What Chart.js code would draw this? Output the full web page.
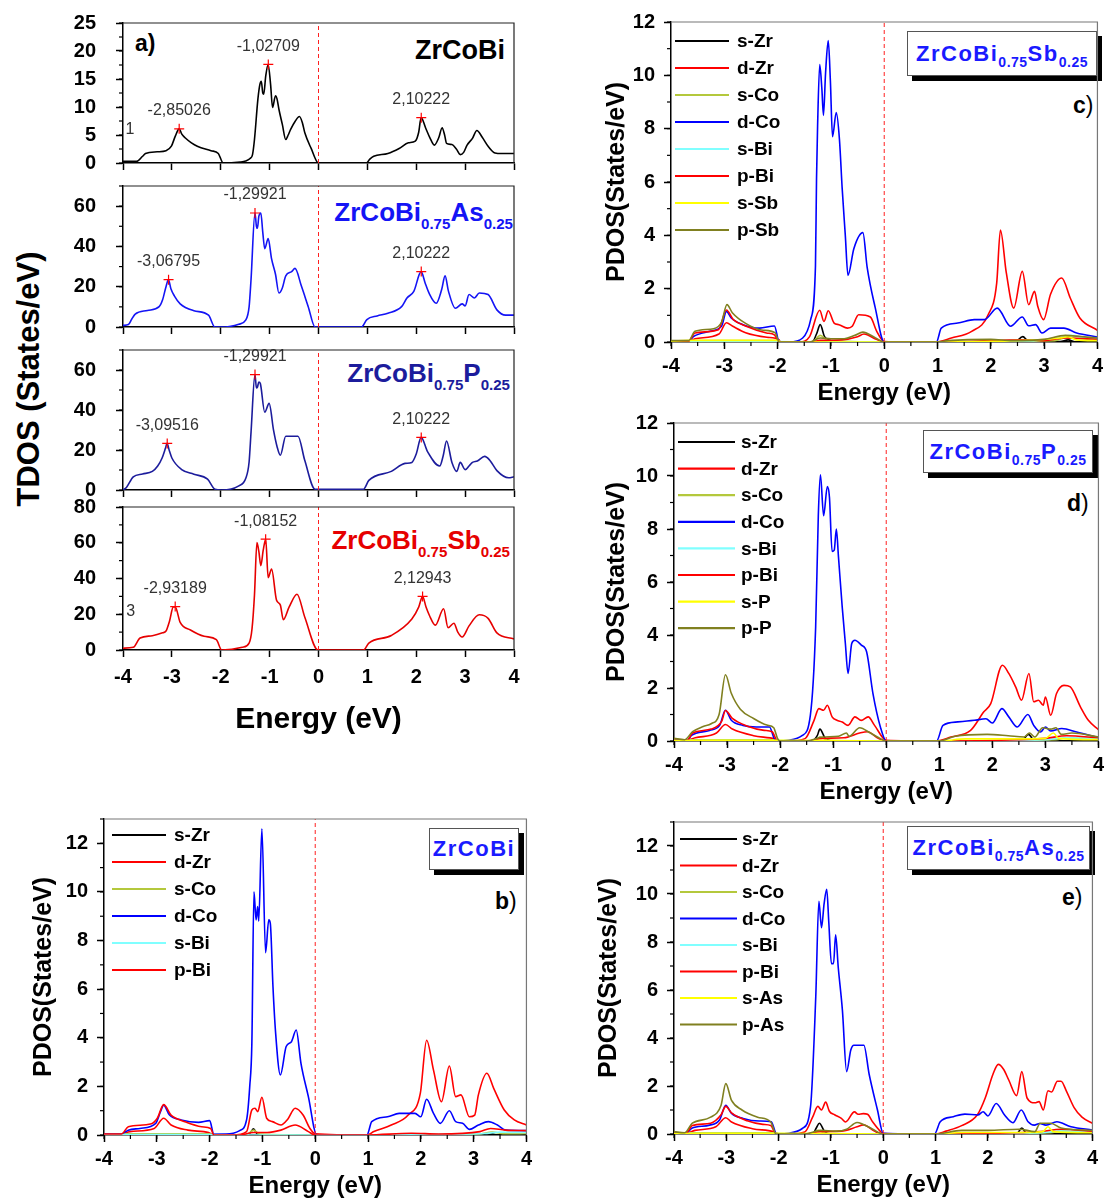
<!DOCTYPE html>
<html>
<head>
<meta charset="utf-8">
<script src="https://cdn.jsdelivr.net/npm/chart.js@4.4.1/dist/chart.umd.min.js"></script>
<style>
  html, body { margin: 0; padding: 0; background: #fff; }
  #fig { position: relative; width: 1106px; height: 1202px; overflow: hidden; font-family: "Liberation Sans", Arial, sans-serif; }
  canvas { position: absolute; }
  .txt { position: absolute; font-weight: bold; white-space: nowrap; line-height: 1; }
  .txt .s { font-size: 58%; position: relative; top: 0.55em; }
  .cbox { position: absolute; background: #fff; border: 1.5px solid #555; box-shadow: 5px 5px 0 #000;
          color: #1a1aff; font-weight: bold; font-size: 22px; letter-spacing: 1.5px; line-height: 1;
          display: flex; align-items: center; justify-content: center; white-space: nowrap; box-sizing: border-box; }
  .cbox .s { font-size: 14px; letter-spacing: 0.5px; position: relative; top: 0.6em; }
  .plab { position: absolute; font-size: 23px; font-weight: bold; line-height: 1; }
  .plab i { font-style: normal; font-weight: normal; }
  #tdosTitle { position: absolute; left: 28px; top: 379px; transform: translate(-50%, -50%) rotate(-90deg);
               font-size: 31px; font-weight: bold; white-space: nowrap; line-height: 1; }
</style>
</head>
<body>
<div id="fig">
  <div id="tdosTitle">TDOS (States/eV)</div>

  <div class="plab" style="left:135px;top:32px;">a)</div>
  <div class="txt" style="right:601px;top:37px;font-size:27px;color:#000;">ZrCoBi</div>
  <div class="txt" style="right:593px;top:199px;font-size:26px;color:#1414f5;">ZrCoBi<span class="s">0.75</span>As<span class="s">0.25</span></div>
  <div class="txt" style="right:596px;top:360px;font-size:26px;color:#1c1c9c;">ZrCoBi<span class="s">0.75</span>P<span class="s">0.25</span></div>
  <div class="txt" style="right:596px;top:527px;font-size:26px;color:#e60000;">ZrCoBi<span class="s">0.75</span>Sb<span class="s">0.25</span></div>

  <div class="cbox" style="left:429px;top:828px;width:90px;height:42px;">ZrCoBi</div>
  <div class="plab" style="left:495px;top:890px;">b<i>)</i></div>

  <div class="cbox" style="left:907px;top:31px;width:190px;height:45px;">ZrCoBi<span class="s">0.75</span>Sb<span class="s">0.25</span></div>
  <div class="plab" style="left:1073px;top:94px;">c<i>)</i></div>

  <div class="cbox" style="left:923px;top:430px;width:170px;height:43px;">ZrCoBi<span class="s">0.75</span>P<span class="s">0.25</span></div>
  <div class="plab" style="left:1067px;top:492px;">d<i>)</i></div>

  <div class="cbox" style="left:907px;top:826px;width:183px;height:44px;">ZrCoBi<span class="s">0.75</span>As<span class="s">0.25</span></div>
  <div class="plab" style="left:1062px;top:886px;">e<i>)</i></div>
</div>

<script>
const FONT = "'Liberation Sans', Arial, sans-serif";

// ---------- a) total DOS, [energy eV, states/eV] ----------
const tdosZrCoBi = [[-4,0.3],[-3.72,0.3],[-3.6,1.2],[-3.54,1.7],[-3.3,2.0],[-3.12,2.2],[-3.01,3.0],[-2.93,4.8],[-2.85,6.1],[-2.8,5.2],[-2.73,4.5],[-2.6,3.6],[-2.48,3.0],[-2.2,2.2],[-2.05,1.7],[-1.95,0],[-1.84,0],[-1.6,0.15],[-1.49,0.35],[-1.4,0.8],[-1.35,1.5],[-1.31,4.2],[-1.24,11.4],[-1.2,14.0],[-1.17,14.6],[-1.14,12.5],[-1.12,12.3],[-1.08,15.5],[-1.03,17.6],[-0.98,14],[-0.94,9.9],[-0.88,12.0],[-0.85,11.5],[-0.81,9.6],[-0.74,6.9],[-0.67,4.2],[-0.62,5.0],[-0.57,6.0],[-0.48,7.4],[-0.39,8.3],[-0.33,7.2],[-0.28,5.4],[-0.15,2.6],[0,0],[0.98,0],[1.05,0.7],[1.13,1.2],[1.42,1.7],[1.65,2.6],[1.84,3.6],[1.98,3.9],[2.05,5.5],[2.1,8.1],[2.19,6.3],[2.28,4.5],[2.37,3.2],[2.46,4.5],[2.53,6.3],[2.58,5.0],[2.62,3.5],[2.73,3.3],[2.82,2.5],[2.9,1.5],[2.97,1.9],[3.04,3.2],[3.15,4.4],[3.24,5.8],[3.35,4.6],[3.47,3.0],[3.61,1.8],[3.75,1.7],[4,1.7]];
const tdosAs = [[-4,0.8],[-3.89,1.2],[-3.82,4],[-3.75,6.4],[-3.5,8.2],[-3.26,10.1],[-3.19,13.5],[-3.12,20],[-3.07,23.5],[-3.02,19],[-2.95,15.5],[-2.83,11.5],[-2.55,8.1],[-2.25,5.9],[-2.12,0],[-1.91,0],[-1.63,1.4],[-1.49,3.4],[-1.42,10],[-1.38,23.7],[-1.3,56.6],[-1.27,50],[-1.25,49],[-1.22,55],[-1.18,56.6],[-1.14,47],[-1.1,38.9],[-1.03,43.9],[-0.96,33.8],[-0.88,26.2],[-0.81,16.9],[-0.74,19.4],[-0.67,25.4],[-0.55,27.5],[-0.48,29.1],[-0.35,20.3],[-0.21,10.1],[-0.07,0],[0.88,0],[0.99,3.7],[1.2,5.5],[1.42,6.8],[1.7,10.1],[1.81,14.4],[1.95,17.7],[2.1,27.5],[2.18,22],[2.26,16.9],[2.41,11.8],[2.52,18.6],[2.59,25.4],[2.66,17.7],[2.8,9.3],[2.94,11.5],[3.0,10.5],[3.08,16.1],[3.19,14.4],[3.29,16.9],[3.47,16.1],[3.65,8.5],[3.83,5.9],[4,5.9]];
const tdosP = [[-4,0],[-3.93,1.3],[-3.79,6.6],[-3.6,8.0],[-3.4,9.3],[-3.29,12],[-3.2,16],[-3.13,21],[-3.1,23.3],[-3.05,19.5],[-3.0,16],[-2.8,10.2],[-2.55,7.9],[-2.27,5.4],[-2.12,0.4],[-1.98,0],[-1.63,2.1],[-1.49,5.7],[-1.42,14],[-1.38,29],[-1.3,57.7],[-1.27,51],[-1.25,51.4],[-1.22,54],[-1.19,53.2],[-1.1,38.9],[-1.01,43.3],[-0.92,29.9],[-0.85,21.9],[-0.78,17.4],[-0.67,26.9],[-0.42,26.9],[-0.28,14.7],[-0.07,0.4],[0.92,0.4],[1.03,4.8],[1.49,9.3],[1.77,13.3],[1.91,13.8],[2.0,18],[2.1,26.3],[2.23,19.2],[2.48,12],[2.55,17],[2.62,24.5],[2.73,13.8],[2.83,9.3],[2.9,13.8],[3.0,10.2],[3.08,12],[3.15,13.8],[3.25,14.5],[3.4,16.8],[3.5,15],[3.65,9.7],[3.89,6.1],[4,6.6]];
const tdosSb = [[-4,1],[-3.79,1.5],[-3.65,6.7],[-3.4,8],[-3.19,9.6],[-3.12,10.6],[-3.05,16],[-2.97,24.1],[-2.93,24],[-2.83,15.4],[-2.62,11.2],[-2.34,7.7],[-2.09,5.8],[-1.98,0],[-1.56,1.5],[-1.42,3.9],[-1.36,12],[-1.31,30.8],[-1.26,60.1],[-1.22,55],[-1.18,47.2],[-1.13,56],[-1.08,62],[-1.03,40.5],[-0.96,45.3],[-0.86,28],[-0.78,25.1],[-0.72,17],[-0.6,24.1],[-0.44,31.2],[-0.28,18.3],[-0.01,0],[0.92,0],[1.03,3.9],[1.49,8.1],[1.91,17.3],[2.05,24],[2.13,30],[2.2,24],[2.27,19.3],[2.39,13.9],[2.56,23.1],[2.65,12.5],[2.77,15],[2.85,10],[2.94,7.3],[3.08,13.5],[3.29,19.7],[3.47,17.7],[3.65,9.6],[4,6.2]];

// marked peaks (energy, TDOS)
const peaksZrCoBiE = [-2.85026, -1.02709, 2.10222];
const peaksZrCoBiV = [6.1, 17.6, 8.1];
const peaksAsE = [-3.06795, -1.29921, 2.10222];
const peaksAsV = [23.5, 56.6, 27.5];
const peaksPE = [-3.09516, -1.29921, 2.10222];
const peaksPV = [23.3, 57.7, 26.3];
const peaksSbE = [-2.93189, -1.08152, 2.12943];
const peaksSbV = [24.3, 62, 30];

// clipped label remnants at the left edge of a)
const strayText = ['1', '3'];
const strayE = [-3.86, -3.84];
const strayV = [5.9, 21.7];

// ---------- partial DOS, [energy eV, states/eV] ----------
const orbitalsBase = ['s-Zr', 'd-Zr', 's-Co', 'd-Co', 's-Bi', 'p-Bi'];
const orbitalsSb = orbitalsBase.concat(['s-Sb', 'p-Sb']);
const orbitalsP = orbitalsBase.concat(['s-P', 'p-P']);
const orbitalsAs = orbitalsBase.concat(['s-As', 'p-As']);

// b) ZrCoBi
const bSZr = [[-4,0],[-1.3,0],[-1.22,0.12],[-1.17,0.25],[-1.1,0.05],[-1.0,0],[3.15,0],[3.3,0.08],[3.45,0],[4,0]];
const bDZr = [[-4,0.04],[-3.67,0.04],[-3.51,0.14],[-3.05,0.27],[-2.87,0.69],[-2.73,0.41],[-2.41,0.2],[-2.02,0.1],[-1.92,0],[-1.56,0],[-1.3,0.14],[-1.2,1.03],[-1.14,1.1],[-1.09,0.96],[-1.01,1.55],[-0.92,0.69],[-0.81,0.55],[-0.65,0.41],[-0.52,0.65],[-0.38,1.1],[-0.23,0.82],[-0.1,0.27],[0,0.05],[0.98,0],[1.11,0.14],[1.44,0.41],[1.76,0.82],[1.99,1.71],[2.11,3.9],[2.24,2.67],[2.39,1.37],[2.54,2.84],[2.66,1.58],[2.76,1.65],[2.92,0.75],[3.02,0.82],[3.09,1.65],[3.25,2.54],[3.38,1.92],[3.58,1.03],[3.77,0.62],[4,0.41]];
const bSCo = [[-4,0.02],[-3.6,0.05],[-2.0,0.05],[-1.92,0],[-1.3,0],[-1.17,0.2],[-1.05,0.04],[0,0],[1,0],[3.1,0.04],[3.35,0.12],[3.6,0.05],[4,0.06]];
const bDCo = [[-4,0.04],[-3.67,0.04],[-3.54,0.2],[-3.32,0.27],[-3.02,0.48],[-2.93,0.96],[-2.87,1.23],[-2.76,0.82],[-2.54,0.62],[-2.21,0.52],[-2.0,0.59],[-1.92,0.04],[-1.69,0.04],[-1.43,0.18],[-1.3,0.62],[-1.24,2.0],[-1.2,3.77],[-1.16,10.0],[-1.12,8.85],[-1.09,9.4],[-1.07,8.8],[-1.01,12.6],[-0.94,7.5],[-0.88,8.85],[-0.85,8.7],[-0.8,6.1],[-0.75,4.2],[-0.66,2.47],[-0.55,3.64],[-0.45,3.84],[-0.36,4.32],[-0.27,2.95],[-0.13,1.58],[0.03,0],[0.98,0],[1.07,0.55],[1.37,0.75],[1.59,0.89],[1.89,0.89],[2.0,0.75],[2.11,1.47],[2.24,0.89],[2.37,0.48],[2.54,1.0],[2.66,0.55],[2.79,0.48],[2.92,0.23],[3.09,0.41],[3.28,0.55],[3.45,0.41],[3.61,0.2],[4,0.18]];
const bSBi = [[-4,0.02],[-1.9,0.02],[-1.3,0],[0,0],[1,0],[2.5,0.03],[3.2,0.06],[3.5,0.12],[4,0.1]];
const bPBi = [[-4,0.04],[-3.67,0.04],[-3.54,0.34],[-3.12,0.45],[-2.99,0.69],[-2.87,1.25],[-2.73,0.82],[-2.47,0.55],[-2.15,0.34],[-1.98,0.27],[-1.92,0],[-1.43,0],[-1.17,0.1],[-0.91,0.1],[-0.65,0.2],[-0.38,0.41],[-0.13,0.14],[0,0],[0.98,0],[1.82,0.07],[2.34,0.04],[3.12,0.14],[3.32,0.27],[3.6,0.2],[4,0.18]];

// c) ZrCoBi0.75Sb0.25
const cSZr = [[-4,0],[-1.35,0],[-1.27,0.3],[-1.2,0.65],[-1.12,0.2],[-1.0,0.05],[-0.9,0],[2.45,0],[2.6,0.2],[2.7,0.05],[3.3,0.02],[3.45,0.08],[3.6,0],[4,0]];
const cDZr = [[-4,0.02],[-3.67,0.02],[-3.55,0.12],[-3.1,0.3],[-2.96,0.72],[-2.85,0.6],[-2.6,0.35],[-2.2,0.18],[-1.97,0.08],[-1.95,0],[-1.59,0],[-1.4,0.2],[-1.21,1.19],[-1.13,0.77],[-1.05,1.17],[-0.94,0.71],[-0.85,0.65],[-0.69,0.52],[-0.6,0.59],[-0.48,1.02],[-0.26,0.94],[-0.14,0.4],[0,0.02],[0.98,0],[1.26,0.15],[1.64,0.4],[1.95,1.02],[2.11,2.21],[2.18,4.2],[2.29,2.6],[2.43,1.27],[2.59,2.65],[2.71,1.4],[2.82,1.9],[2.88,1.34],[2.99,0.84],[3.12,1.79],[3.33,2.4],[3.49,1.65],[3.67,0.9],[4,0.44]];
const cSCo = [[-4,0.02],[-3.6,0.05],[-2.0,0.05],[-1.95,0],[-1.35,0],[-1.2,0.25],[-1.05,0.05],[0,0],[1,0],[3.2,0.05],[3.4,0.15],[4,0.08]];
const cDCo = [[-4,0.02],[-3.67,0.02],[-3.58,0.2],[-3.27,0.4],[-3.05,0.6],[-2.96,1.15],[-2.87,0.9],[-2.65,0.65],[-2.34,0.52],[-2.06,0.6],[-1.97,0],[-1.78,0],[-1.53,0.15],[-1.38,0.84],[-1.29,2.84],[-1.27,6.1],[-1.25,8.1],[-1.21,10.4],[-1.17,9.5],[-1.14,8.5],[-1.1,10.1],[-1.05,11.3],[-1.01,9.8],[-0.97,7.7],[-0.9,8.6],[-0.84,7.6],[-0.79,5.8],[-0.73,4.0],[-0.68,2.5],[-0.57,3.5],[-0.4,4.1],[-0.32,2.8],[-0.17,1.3],[0,0],[0.98,0],[1.07,0.52],[1.38,0.71],[1.69,0.84],[1.88,0.84],[2.12,1.27],[2.37,0.59],[2.59,0.94],[2.71,0.61],[2.84,0.65],[2.96,0.34],[3.12,0.52],[3.37,0.52],[3.61,0.34],[4,0.19]];
const cSBi = [[-4,0.02],[-2,0.02],[-1.3,0],[0,0],[1,0],[2.8,0.05],[3.3,0.15],[3.5,0.25],[3.8,0.15],[4,0.12]];
const cPBi = [[-4,0.02],[-3.67,0.02],[-3.55,0.34],[-3.11,0.46],[-2.96,1.2],[-2.83,0.84],[-2.59,0.59],[-2.21,0.34],[-2.06,0.27],[-1.97,0],[-1.4,0],[-1.2,0.06],[-0.8,0.08],[-0.5,0.2],[-0.38,0.3],[-0.15,0.1],[0,0],[0.98,0],[2.0,0.05],[2.6,0.08],[3.0,0.05],[3.4,0.15],[4,0.1]];
const cSSb = [[-4,0.03],[-3.6,0.06],[-2.0,0.06],[-1.95,0],[0,0],[1,0],[2.5,0.05],[3.3,0.15],[3.45,0.2],[3.6,0.08],[4,0.05]];
const cPSb = [[-4,0.05],[-3.67,0.05],[-3.55,0.4],[-3.2,0.5],[-3.05,0.75],[-2.95,1.4],[-2.85,1.1],[-2.6,0.7],[-2.3,0.45],[-2.05,0.35],[-1.97,0],[-1.4,0],[-1.2,0.15],[-1.0,0.12],[-0.75,0.12],[-0.55,0.25],[-0.4,0.37],[-0.2,0.2],[0,0],[0.98,0],[1.2,0.05],[2.0,0.1],[2.4,0.05],[3.0,0.1],[3.4,0.25],[3.7,0.2],[4,0.15]];

// d) ZrCoBi0.75P0.25
const dSZr = [[-4,0],[-1.4,0],[-1.3,0.2],[-1.25,0.45],[-1.15,0.1],[-1.0,0],[2.55,0],[2.68,0.25],[2.8,0],[4,0]];
const dDZr = [[-4,0.03],[-3.75,0.03],[-3.6,0.12],[-3.2,0.3],[-3.03,0.62],[-2.9,0.45],[-2.5,0.2],[-2.1,0.08],[-2.0,0],[-1.84,0],[-1.53,0.09],[-1.36,0.78],[-1.27,1.22],[-1.18,1.16],[-1.11,1.35],[-1.02,0.91],[-0.93,0.78],[-0.83,0.72],[-0.72,0.59],[-0.59,0.91],[-0.47,0.78],[-0.34,0.91],[-0.22,0.59],[0,0.03],[0.95,0],[1.22,0.15],[1.59,0.4],[1.84,1.1],[1.97,1.41],[2.19,2.86],[2.31,2.55],[2.44,2.04],[2.55,1.54],[2.69,2.55],[2.78,1.48],[2.87,1.54],[2.96,1.35],[3.0,1.66],[3.1,0.97],[3.21,1.79],[3.35,2.1],[3.47,2.04],[3.66,1.29],[3.81,0.78],[4,0.43]];
const dSCo = [[-4,0.03],[-3.6,0.05],[-2.05,0.05],[-2.0,0],[-1.35,0],[-1.25,0.15],[-1.1,0.03],[0,0],[1,0],[3.2,0.05],[3.4,0.12],[4,0.08]];
const dDCo = [[-4,0.03],[-3.75,0.03],[-3.67,0.21],[-3.33,0.4],[-3.14,0.59],[-3.03,1.16],[-2.92,0.78],[-2.7,0.59],[-2.45,0.53],[-2.2,0.53],[-2.11,0.09],[-2.02,0],[-1.84,0.03],[-1.58,0.21],[-1.43,0.97],[-1.33,4.3],[-1.28,8.5],[-1.24,10.05],[-1.18,8.5],[-1.11,9.6],[-1.07,9.2],[-1.02,7.15],[-0.98,7.2],[-0.94,8.0],[-0.9,6.95],[-0.83,5.07],[-0.77,3.68],[-0.72,2.55],[-0.65,3.68],[-0.59,3.8],[-0.47,3.62],[-0.37,3.37],[-0.25,1.79],[-0.11,0.53],[0,0],[0.95,0],[1.07,0.59],[1.35,0.72],[1.66,0.78],[1.88,0.84],[2.0,0.68],[2.18,1.22],[2.31,0.91],[2.47,0.53],[2.67,1.0],[2.78,0.59],[2.91,0.34],[3.0,0.53],[3.1,0.38],[3.31,0.47],[3.59,0.34],[4,0.13]];
const dSBi = [[-4,0.02],[-2,0.02],[-1.3,0],[0,0],[1,0],[3.0,0.05],[3.4,0.12],[4,0.1]];
const dPBi = [[-4,0.03],[-3.75,0.03],[-3.65,0.3],[-3.3,0.45],[-3.1,0.75],[-3.03,1.15],[-2.9,0.85],[-2.6,0.55],[-2.3,0.4],[-2.15,0.35],[-2.05,0],[-1.5,0],[-1.2,0.1],[-0.8,0.12],[-0.5,0.3],[-0.35,0.35],[-0.15,0.1],[0,0],[1,0],[2.5,0.05],[3.0,0.1],[3.4,0.2],[4,0.12]];
const dSP = [[-4,0.02],[-2,0.03],[0,0],[1,0],[1.5,0.08],[2.5,0.08],[3.0,0.1],[3.15,0.3],[3.25,0.1],[4,0.05]];
const dPP = [[-4,0.1],[-3.8,0.05],[-3.65,0.35],[-3.45,0.55],[-3.3,0.65],[-3.15,1.0],[-3.03,2.5],[-2.92,1.8],[-2.75,1.2],[-2.5,0.85],[-2.25,0.6],[-2.12,0.5],[-2.05,0.1],[-2.0,0],[-1.5,0],[-1.2,0.15],[-0.9,0.18],[-0.75,0.3],[-0.7,0.18],[-0.5,0.5],[-0.3,0.3],[-0.1,0.08],[0,0],[1,0],[1.3,0.18],[1.9,0.25],[2.3,0.2],[2.6,0.15],[2.7,0.3],[2.8,0.15],[2.95,0.5],[3.1,0.45],[3.2,0.5],[3.3,0.25],[3.5,0.3],[4,0.15]];

// e) ZrCoBi0.75As0.25
const eSZr = [[-4,0],[-1.35,0],[-1.28,0.25],[-1.22,0.45],[-1.12,0.1],[-1.0,0],[2.55,0],[2.65,0.25],[2.75,0],[4,0]];
const eDZr = [[-4,0.03],[-3.77,0.03],[-3.6,0.15],[-3.2,0.3],[-3.01,0.68],[-2.9,0.5],[-2.5,0.22],[-2.1,0.1],[-2.0,0],[-1.8,0],[-1.5,0.08],[-1.35,0.7],[-1.25,1.15],[-1.18,1.0],[-1.1,1.33],[-1.03,0.95],[-0.93,0.8],[-0.8,0.65],[-0.72,0.5],[-0.55,0.92],[-0.48,0.82],[-0.38,0.85],[-0.3,0.82],[-0.2,0.5],[-0.05,0.1],[0,0.02],[1.0,0],[1.2,0.12],[1.5,0.35],[1.8,0.8],[1.95,1.5],[2.1,2.5],[2.2,2.9],[2.3,2.7],[2.4,2.25],[2.55,1.6],[2.65,2.6],[2.75,1.5],[2.9,1.3],[2.98,1.35],[3.06,1.0],[3.15,1.8],[3.22,1.75],[3.33,2.2],[3.4,2.2],[3.5,1.8],[3.65,1.1],[3.8,0.7],[4,0.45]];
const eSCo = [[-4,0.03],[-3.6,0.05],[-2.05,0.05],[-2.0,0],[-1.35,0],[-1.25,0.15],[-1.1,0.03],[0,0],[1,0],[3.2,0.05],[3.4,0.12],[4,0.08]];
const eDCo = [[-4,0.03],[-3.77,0.03],[-3.66,0.24],[-3.32,0.37],[-3.13,0.58],[-3.01,1.2],[-2.9,0.86],[-2.68,0.65],[-2.37,0.54],[-2.14,0.51],[-2.05,0.03],[-1.99,0],[-1.8,0.03],[-1.54,0.24],[-1.39,1.13],[-1.29,5.7],[-1.23,9.7],[-1.18,8.6],[-1.13,9.6],[-1.08,10.2],[-1.04,8.8],[-0.99,7.1],[-0.95,7.1],[-0.91,8.3],[-0.86,6.95],[-0.78,5.15],[-0.7,2.6],[-0.62,3.5],[-0.56,3.7],[-0.37,3.7],[-0.27,2.5],[-0.11,1.0],[0,0.03],[0.98,0],[1.09,0.51],[1.34,0.72],[1.56,0.83],[1.81,0.79],[1.91,0.93],[2.0,0.75],[2.16,1.27],[2.32,0.79],[2.48,0.47],[2.64,1.0],[2.77,0.51],[2.89,0.37],[2.99,0.44],[3.11,0.37],[3.32,0.51],[3.59,0.3],[4,0.17]];
const eSBi = [[-4,0.02],[-2,0.02],[-1.3,0],[0,0],[1,0],[3.0,0.05],[3.4,0.12],[4,0.1]];
const ePBi = [[-4,0.03],[-3.77,0.03],[-3.65,0.35],[-3.3,0.45],[-3.1,0.8],[-3.01,1.15],[-2.9,0.88],[-2.6,0.55],[-2.3,0.4],[-2.15,0.35],[-2.05,0],[-1.5,0],[-1.2,0.1],[-0.8,0.12],[-0.5,0.3],[-0.38,0.38],[-0.15,0.1],[0,0],[1,0],[2.5,0.05],[3.0,0.1],[3.4,0.2],[4,0.12]];
const eSAs = [[-4,0.02],[-2,0.03],[0,0],[1,0],[1.5,0.06],[2.5,0.06],[3.05,0.1],[3.15,0.3],[3.25,0.1],[4,0.05]];
const ePAs = [[-4,0.1],[-3.8,0.05],[-3.65,0.45],[-3.3,0.7],[-3.1,1.2],[-3.01,2.1],[-2.9,1.4],[-2.7,1.0],[-2.4,0.7],[-2.15,0.5],[-2.05,0],[-1.5,0],[-1.2,0.15],[-0.9,0.12],[-0.7,0.2],[-0.5,0.48],[-0.4,0.42],[-0.2,0.2],[0,0],[1,0],[1.5,0.15],[2.0,0.15],[2.6,0.2],[2.9,0.1],[3.0,0.45],[3.2,0.45],[3.4,0.25],[4,0.15]];

const orbitalColors = ['#000000', '#ff0000', '#b4c83c', '#0000ff', '#80ffff', '#ff0000', '#ffff00', '#808020'];

// ---------- plugins ----------
const minorTicks = {
  id: 'minorTicks',
  afterDraw(chart, args, o) {
    const { ctx, chartArea: a, scales } = chart;
    ctx.save();
    ctx.strokeStyle = '#000';
    ctx.lineWidth = 1.2;
    if (o.x) {
      const s = scales.x;
      for (let v = s.min; v <= s.max + 1e-9; v += o.x) {
        const px = s.getPixelForValue(v);
        ctx.beginPath(); ctx.moveTo(px, a.bottom); ctx.lineTo(px, a.bottom + o.len); ctx.stroke();
      }
    }
    if (o.y) {
      const s = scales.y;
      for (let v = s.min; v <= s.max + 1e-9; v += o.y) {
        const py = s.getPixelForValue(v);
        ctx.beginPath(); ctx.moveTo(a.left, py); ctx.lineTo(a.left - o.len, py); ctx.stroke();
      }
    }
    ctx.restore();
  }
};

const frame = {
  id: 'frame',
  afterDraw(chart, args, o) {
    const { ctx, chartArea: a } = chart;
    ctx.save();
    ctx.strokeStyle = o.color || '#000';
    ctx.lineWidth = o.width || 1;
    ctx.beginPath();
    ctx.moveTo(a.left, a.top); ctx.lineTo(a.right, a.top); ctx.lineTo(a.right, a.bottom);
    ctx.stroke();
    ctx.restore();
  }
};

const peakLabels = {
  id: 'peakLabels',
  afterDatasetsDraw(chart) {
    const ctx = chart.ctx;
    chart.data.datasets.forEach((ds, i) => {
      if (!ds.pointText) return;
      const meta = chart.getDatasetMeta(i);
      ctx.save();
      ctx.font = `16px ${FONT}`;
      ctx.fillStyle = '#333';
      ctx.textAlign = 'center';
      ctx.textBaseline = 'middle';
      meta.data.forEach((pt, j) => ctx.fillText(ds.pointText[j], pt.x, pt.y - ds.textDy));
      ctx.restore();
    });
  }
};

const innerLegend = {
  id: 'innerLegend',
  afterDraw(chart, args, o) {
    if (!o.gap) return;
    const { ctx, chartArea: a } = chart;
    ctx.save();
    ctx.font = `bold 19px ${FONT}`;
    ctx.textBaseline = 'middle';
    ctx.textAlign = 'left';
    let row = 0;
    chart.data.datasets.forEach(ds => {
      if (!ds.inLegend) return;
      const y = a.top + o.top + row * o.gap;
      ctx.strokeStyle = ds.borderColor;
      ctx.lineWidth = 2.2;
      ctx.beginPath(); ctx.moveTo(a.left + o.x0, y); ctx.lineTo(a.left + o.x1, y); ctx.stroke();
      ctx.fillStyle = '#000';
      ctx.fillText(ds.label, a.left + o.tx, y + 1);
      row++;
    });
    ctx.restore();
  }
};

// ---------- helpers ----------
const pts = arr => arr.map(p => ({ x: p[0], y: p[1] }));
const commaLabel = e => e.toFixed(5).replace('.', ',');

function fermiSet(ymax) {
  return { data: [{ x: 0, y: 0 }, { x: 0, y: ymax }], borderColor: '#ff2020', borderWidth: 1,
           borderDash: [4, 3], pointRadius: 0, order: 0 };
}

function makeCanvas(id, plot, yw, xh, padTop, padRight, extraTop, extraBottom) {
  const [L, T, R, B] = plot;
  const c = document.createElement('canvas');
  c.id = id;
  c.width = R - L + yw + padRight;
  c.height = Math.round(B - T + padTop + xh + extraTop + extraBottom);
  c.style.left = (L - yw) + 'px';
  c.style.top = Math.round(T - padTop - extraTop) + 'px';
  c.style.width = c.width + 'px';
  c.style.height = c.height + 'px';
  document.getElementById('fig').appendChild(c);
  return c;
}

function config(p) {
  const bold = size => ({ family: FONT, size, weight: 'bold' });
  return {
    type: 'line',
    data: { datasets: p.datasets },
    options: {
      responsive: false,
      maintainAspectRatio: false,
      animation: false,
      devicePixelRatio: 1,
      layout: { padding: { top: p.padTop, right: p.padRight, left: 0, bottom: 0 } },
      elements: { point: { radius: 0 }, line: { tension: 0 } },
      plugins: {
        legend: { display: false },
        tooltip: { enabled: false },
        minorTicks: { x: p.xMinor, y: p.yMinor, len: 4 },
        frame: { color: p.frameColor, width: 1.2 },
        innerLegend: p.legend || {}
      },
      scales: {
        x: {
          type: 'linear', min: -4, max: 4,
          ticks: { stepSize: 1, display: p.xLabels, color: '#000', font: bold(p.tickSize), padding: p.xPad, includeBounds: false, maxRotation: 0 },
          grid: { drawOnChartArea: false, tickLength: 7, tickColor: '#000', tickWidth: 1.5 },
          border: { color: '#000', width: 1.5 },
          title: { display: !!p.xTitle, text: p.xTitle, color: '#000', font: bold(p.xTitleSize || 24), padding: { top: 0, bottom: p.xTitlePad || 0 } },
          afterFit(s) { s.height = p.xh; }
        },
        y: {
          type: 'linear', min: 0, max: p.ymax,
          ticks: { stepSize: p.yStep, color: '#000', font: bold(p.tickSize), padding: p.yPad, includeBounds: false },
          grid: { drawOnChartArea: false, tickLength: 7, tickColor: '#000', tickWidth: 1.5 },
          border: { color: '#000', width: 1.5 },
          title: { display: !!p.yTitle, text: p.yTitle, color: '#000', font: bold(25), padding: { top: p.yTitlePad || 0, bottom: 0 } },
          afterFit(s) { s.width = p.yw; }
        }
      }
    },
    plugins: [minorTicks, frame, peakLabels, innerLegend]
  };
}

// build, then nudge the canvas until the plot area sits on the wanted page box
function build(p, extraTop = 0, extraBottom = 0, tries = 0) {
  const cv = makeCanvas(p.id, p.plot, p.yw, p.xh, p.padTop, p.padRight, extraTop, extraBottom);
  const chart = new Chart(cv, config(p));
  const top = parseFloat(cv.style.top);
  const a = chart.chartArea;
  const dT = top + a.top - p.plot[1];
  const dB = p.plot[3] - (top + a.bottom);
  if ((Math.abs(dT) > 0.6 || Math.abs(dB) > 0.6) && tries < 5) {
    chart.destroy();
    cv.remove();
    return build(p, extraTop + dT, extraBottom + dB, tries + 1);
  }
  return chart;
}

// ---------- a) TDOS stack ----------
function tdosPanel(id, plot, curve, color, ymax, yStep, yMinor, peakE, peakV, last, stray) {
  const datasets = [
    { data: pts(curve), borderColor: color, borderWidth: 1.6, pointRadius: 0, order: 2, cubicInterpolationMode: 'monotone' },
    fermiSet(ymax),
    { data: peakE.map((e, i) => ({ x: e, y: peakV[i] })), showLine: false, pointStyle: 'cross',
      pointRadius: 5, borderColor: '#ff0000', borderWidth: 1.2, order: 1,
      pointText: peakE.map(commaLabel), textDy: 18 }
  ];
  if (stray !== null) {
    datasets.push({ data: [{ x: strayE[stray], y: strayV[stray] }], showLine: false, pointRadius: 0,
                    pointText: [strayText[stray]], textDy: 0 });
  }
  build({
    id, plot, datasets, ymax, yStep, yMinor, xMinor: 0,
    yw: plot[0], xh: last ? 100 : 10, padTop: 14, padRight: 14,
    tickSize: 20, xPad: 8, yPad: 20, xLabels: !!last,
    xTitle: last ? 'Energy (eV)' : '', xTitleSize: 30, xTitlePad: 12,
    frameColor: '#222'
  });
}

tdosPanel('a1', [123, 23, 514, 163], tdosZrCoBi, '#000000', 25, 5, 2.5, peaksZrCoBiE, peaksZrCoBiV, false, 0);
tdosPanel('a2', [123, 186, 514, 327], tdosAs, '#1414f5', 70, 20, 10, peaksAsE, peaksAsV, false, null);
tdosPanel('a3', [123, 350, 514, 490], tdosP, '#1c1c9c', 70, 20, 10, peaksPE, peaksPV, false, null);
tdosPanel('a4', [123, 507, 514, 650], tdosSb, '#e60000', 80, 20, 10, peaksSbE, peaksSbV, true, 1);

// ---------- b)-e) PDOS ----------
function pdosPanel(id, plot, series, labels, ymax, yw, yTitlePad, legend) {
  const datasets = series.map((s, i) => ({
    label: labels[i], data: pts(s), borderColor: orbitalColors[i], borderWidth: 1.6,
    pointRadius: 0, inLegend: true, order: series.length - i + 1, cubicInterpolationMode: 'monotone'
  }));
  datasets.push(fermiSet(ymax));
  build({
    id, plot, datasets, ymax, yStep: 2, yMinor: 1, xMinor: 0.5,
    yw, xh: 67, padTop: 14, padRight: 8,
    tickSize: 20, xPad: 5, yPad: 9, xLabels: true,
    xTitle: 'Energy (eV)', xTitleSize: 24, xTitlePad: 1,
    yTitle: 'PDOS(States/eV)', yTitlePad,
    frameColor: '#777', legend
  });
}

pdosPanel('b', [104, 819, 529, 1135], [bSZr, bDZr, bSCo, bDCo, bSBi, bPBi], orbitalsBase, 13, 80, 5,
          { x0: 8, x1: 62, tx: 70, top: 16, gap: 27 });
pdosPanel('c', [671, 22, 1100, 342], [cSZr, cDZr, cSCo, cDCo, cSBi, cPBi, cSSb, cPSb], orbitalsSb, 12, 74, 5,
          { x0: 4, x1: 58, tx: 66, top: 19, gap: 27 });
pdosPanel('d', [674, 423, 1101, 741], [dSZr, dDZr, dSCo, dDCo, dSBi, dPBi, dSP, dPP], orbitalsP, 12, 77, 5,
          { x0: 4, x1: 61, tx: 67, top: 19, gap: 26.6 });
pdosPanel('e', [674, 822, 1095, 1134], [eSZr, eDZr, eSCo, eDCo, eSBi, ePBi, eSAs, ePAs], orbitalsAs, 13, 85, 5,
          { x0: 6, x1: 63, tx: 68, top: 17, gap: 26.5 });
</script>
</body>
</html>
